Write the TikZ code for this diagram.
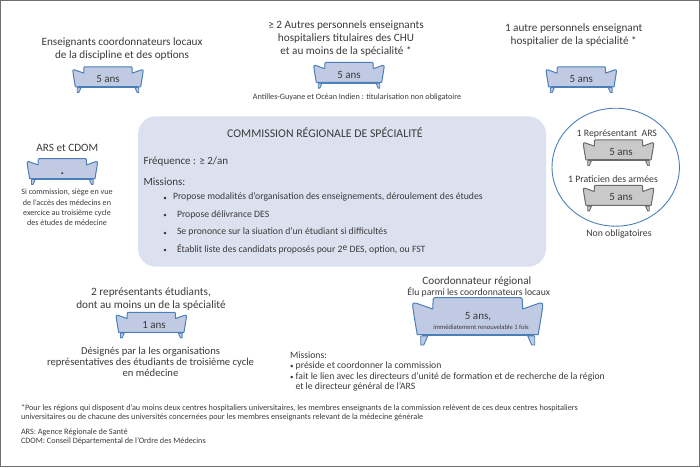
\documentclass[tikz,border=0pt]{standalone}
\usepackage{fontspec}
\setmainfont{Carlito}
\definecolor{ink}{HTML}{3A3A3A}
\definecolor{sofablue}{HTML}{C0CAE3}
\definecolor{sofaline}{HTML}{4A7FB8}
\definecolor{sofagray}{HTML}{C9C9C9}
\definecolor{sofadark}{HTML}{6A6A6A}
\definecolor{panel}{HTML}{DCE1F0}
\definecolor{framegray}{HTML}{6E6E6E}
\newcommand{\fs}[1]{\fontsize{#1}{#1}\selectfont}
\tikzset{
  x=1pt,y=-1pt,
  txt/.style={inner sep=0pt,outer sep=0pt,text=ink,anchor=mid,yshift=-1.3pt},
  ltxt/.style={inner sep=0pt,outer sep=0pt,text=ink,anchor=mid west,yshift=-1.3pt},
  blk/.style={inner sep=0pt,outer sep=0pt,text=ink,align=center,anchor=center},
  lblk/.style={inner sep=0pt,outer sep=0pt,text=ink,align=left,anchor=north west},
  pics/sofa/.style n args={2}{code={
    \path[fill=#1,draw=#2,line width=1pt,line join=round]
      (-65,9) .. controls (-66,6.5) and (-64,5.5) .. (-62,6)
      -- (-45,12) -- (-44.5,2) .. controls (-44.5,1) and (-44,0.5) .. (-43,0.5)
      -- (43,0.5) .. controls (44,0.5) and (44.5,1) .. (44.5,2)
      -- (45,12) -- (62,6) .. controls (64,5.5) and (66,6.5) .. (65,9)
      .. controls (64,18) and (62,28) .. (60.5,37.5)
      -- (-60.5,37.5) .. controls (-62,28) and (-64,18) .. (-65,9) -- cycle;
    \path[draw=#2,line width=1.6pt] (-56,38) -- (56,38);
    \path[fill=#1,draw=#2,line width=.9pt,line join=round]
      (-57,39) -- (-50,39) -- (-54,48) -- (-57,48) -- cycle;
    \path[fill=#1,draw=#2,line width=.9pt,line join=round]
      (57,39) -- (50,39) -- (54,48) -- (57,48) -- cycle;
  }},
}
\begin{document}
\begin{tikzpicture}
\useasboundingbox (0,0) rectangle (700,467);
\draw[framegray,line width=1.2pt] (0.6,0.6) rectangle (699.4,466.4);

% panel and circle
\fill[panel,rounded corners=18pt] (138,116.3) rectangle (546,266.7);
\draw[sofaline,line width=.9pt] (615.7,167.2) ellipse[x radius=63.7,y radius=59];

% top left
\node[blk,font=\fontsize{11.2}{13}\selectfont] (t1) at (122,49.5) {Enseignants coordonnateurs locaux\\de la discipline et des options};
\pic[scale=.54] at (108,66.6) {sofa={sofablue}{sofaline}};
\node[txt] (d1) at (108,79) {\fs{11}5 ans};

% top centre
\node[blk,font=\fontsize{11.2}{13}\selectfont] (t2) at (346,39) {≥ 2 Autres personnels enseignants\\hospitaliers titulaires des CHU\\et au moins de la spécialité *};
\pic[scale=.54] at (349,62.2) {sofa={sofablue}{sofaline}};
\node[txt] (d2) at (349,75) {\fs{11}5 ans};
\node[txt] (n2) at (357,95.5) {\fs{8.2}Antilles-Guyane et Océan Indien : titularisation non obligatoire};

% top right
\node[blk,font=\fontsize{11.2}{13}\selectfont] (t3) at (573.7,35.5) {1 autre personnels enseignant\\hospitalier de la spécialité *};
\pic[scale=.54] at (581.3,66.6) {sofa={sofablue}{sofaline}};
\node[txt] (d3) at (581.3,79) {\fs{11}5 ans};

% left
\node[txt] (t4) at (67.3,148) {\fs{11.2}ARS et CDOM};
\pic[scale=.54] at (62.3,158.4) {sofa={sofablue}{sofaline}};
\node[txt] (d4) at (62.3,171) {\fs{13}\textbf{.}};
\node[blk,font=\fontsize{8.1}{10.3}\selectfont] (n4) at (67,207.5) {Si commission, siège en vue\\de l’accès des médecins en\\exercice au troisième cycle\\des études de médecine};

% commission
\node[txt] (title) at (325,133.5) {\fs{11.8}COMMISSION RÉGIONALE DE SPÉCIALITÉ};
\node[ltxt] (freq) at (143.5,161) {\fs{11}Fréquence : ≥ 2/an};
\node[ltxt] (miss) at (143.5,182) {\fs{11}Missions:};
\node[txt] (b1) at (165,196.5) {\fs{7}•};
\node[ltxt] (m1) at (173,196) {\fs{9.7}Propose modalités d’organisation des enseignements, déroulement des études};
\node[txt] (b2) at (165,214) {\fs{7}•};
\node[ltxt] (m2) at (177,213.5) {\fs{9.7}Propose délivrance DES};
\node[txt] (b3) at (165,231.5) {\fs{7}•};
\node[ltxt] (m3) at (177,231) {\fs{9.7}Se prononce sur la siuation d’un étudiant si difficultés};
\node[txt] (b4) at (165,249) {\fs{7}•};
\node[ltxt] (m4) at (177,248.5) {\fs{9.7}Établit liste des candidats proposés pour 2\raisebox{.45ex}{\fs{9.5}e} DES, option, ou FST};

% circle content
\node[txt] (c1) at (616.8,133) {\fs{9.8}1 Représentant\ \ ARS};
\pic[scale=.54] at (618.5,139.6) {sofa={sofagray}{sofadark}};
\node[txt] (cd1) at (621,152) {\fs{11}5 ans};
\node[txt] (c2) at (613,178.5) {\fs{9.8}1 Praticien des armées};
\pic[scale=.54] at (618.5,185) {sofa={sofagray}{sofadark}};
\node[txt] (cd2) at (621,197) {\fs{11}5 ans};
\node[txt] (c3) at (619,233) {\fs{9.8}Non obligatoires};

% students
\node[blk,font=\fontsize{11.2}{13.3}\selectfont] (t5) at (151,298.7) {2 représentants étudiants,\\dont au moins un de la spécialité};
\pic[scale=.54] at (151.3,312) {sofa={sofablue}{sofaline}};
\node[txt] (d5) at (154,325) {\fs{11}1 ans};
\node[blk,font=\fontsize{10.6}{11.3}\selectfont] (n5) at (150.5,362) {Désignés par la les organisations\\représentatives des étudiants de troisième cycle\\en médecine};

% coordinator
\node[txt] (t6) at (476.8,280.5) {\fs{11.2}Coordonnateur régional};
\node[txt] (n6) at (478.8,292) {\fs{9.7}Élu parmi les coordonnateurs locaux};
\pic at (477.7,297) {sofa={sofablue}{sofaline}};
\node[txt] (d6) at (478,316) {\fs{11}5 ans,};
\node[txt] (d6b) at (481,326) {\fs{6.6}immédiatement renouvelable 1 fois};
\node[lblk,font=\fontsize{9.7}{10.6}\selectfont] (m6) at (290,351.5) {Missions:\\{\fs{7}•}\ préside et coordonner la commission\\{\fs{7}•}\ fait le lien avec les directeurs d’unité de formation et de recherche de la région\\\hspace*{5.5pt}et le directeur général de l’ARS};

% footnotes
\node[lblk,font=\fontsize{8.2}{9}\selectfont] (f1) at (21,404.5) {*Pour les régions qui disposent d’au moins deux centres hospitaliers universitaires, les membres enseignants de la commission relèvent de ces deux centres hospitaliers\\universitaires ou de chacune des universités concernées pour les membres enseignants relevant de la médecine générale};
\node[lblk,font=\fontsize{8.2}{9}\selectfont] (f2) at (21,428.5) {ARS: Agence Régionale de Santé\\CDOM: Conseil Départemental de l’Ordre des Médecins};
\end{tikzpicture}
\end{document}
